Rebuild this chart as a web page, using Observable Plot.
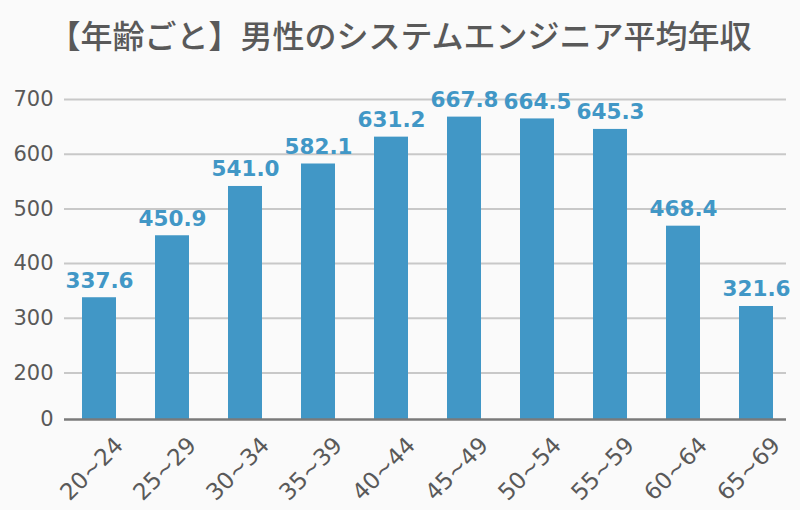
<!DOCTYPE html>
<html>
<head>
<meta charset="utf-8">
<script src="https://cdn.jsdelivr.net/npm/d3@7"></script>
<script src="https://cdn.jsdelivr.net/npm/@observablehq/plot@0.6"></script>
<style>
  html, body { margin: 0; padding: 0; background: #fafafa; }
  #wrap { width: 800px; height: 510px; overflow: hidden; background: #fafafa; }
  #title { height: 70px; line-height: 68px; text-align: center; font-family: "Noto Sans CJK JP", sans-serif; font-size: 32px; font-weight: 500; color: #595959; }
</style>
</head>
<body>
<div id="wrap">
  <div id="title">【年齢ごと】男性のシステムエンジニア平均年収</div>
  <div id="chart"></div>
</div>
<script>
const ageGroups = ["20~24","25~29","30~34","35~39","40~44","45~49","50~54","55~59","60~64","65~69"];
const salaries = [337.6, 450.9, 541.0, 582.1, 631.2, 667.8, 664.5, 645.3, 468.4, 321.6];
const axisFloor = 115;
const yTickValues = [115, 200, 300, 400, 500, 600, 700];
const yTickLabels = ["0", "200", "300", "400", "500", "600", "700"];

const data = ageGroups.map((a, i) => ({age: a, value: salaries[i]}));
const ticks = yTickValues.map((v, i) => ({v, label: yTickLabels[i]}));
const font = "DejaVu Sans, Verdana, sans-serif";

const chart = Plot.plot({
  width: 800,
  height: 440,
  marginTop: 29,
  marginBottom: 91,
  marginLeft: 62,
  marginRight: 7,
  style: {background: "transparent", fontFamily: font},
  x: {domain: ageGroups, paddingInner: 0.535, paddingOuter: 0.2675, axis: null},
  y: {domain: [axisFloor, 700], axis: null},
  marks: [
    Plot.ruleY(yTickValues.slice(1), {stroke: "#c8c8c8", strokeWidth: 2, insetLeft: 2, insetRight: 7}),
    Plot.barY(data, {x: "age", y1: axisFloor, y2: "value", fill: "#4197c6"}),
    Plot.ruleY([axisFloor], {stroke: "#7a7a7a", strokeWidth: 2.5, insetLeft: 2, insetRight: 7}),
    Plot.text(data, {x: "age", y: "value", text: d => d.value.toFixed(1), lineAnchor: "bottom", dy: -10, fill: "#4197c6", fontSize: 21.5, fontWeight: "bold"}),
    Plot.text(ticks, {y: "v", text: "label", frameAnchor: "left", textAnchor: "end", dx: -9, fill: "#595959", fontSize: 21}),
    Plot.text(ageGroups, {x: d => d, text: d => d, frameAnchor: "bottom", rotate: -45, textAnchor: "end", lineAnchor: "middle", dx: 20, dy: 22, fill: "#595959", fontSize: 23})
  ]
});
document.getElementById("chart").appendChild(chart);
</script>
</body>
</html>
